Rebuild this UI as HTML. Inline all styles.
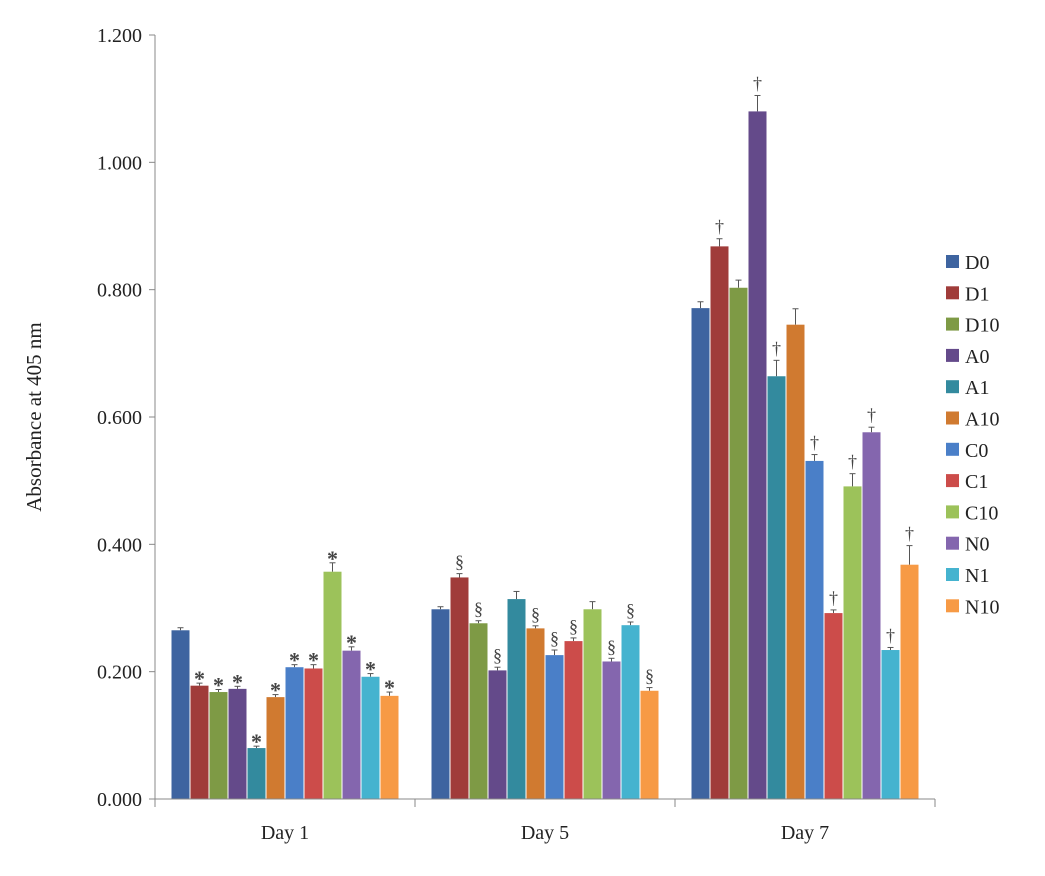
<!DOCTYPE html>
<html><head><meta charset="utf-8"><style>
body{margin:0;background:#fff}
svg{display:block;font-family:"Liberation Serif",serif}
</style></head><body>
<svg id="chart" width="1045" height="876" viewBox="0 0 1045 876"></svg>
<script>
const categories=["Day 1","Day 5","Day 7"];
const series=["D0","D1","D10","A0","A1","A10","C0","C1","C10","N0","N1","N10"];
const colors=["#3E64A0","#A03C3A","#7E9A45","#644A8A","#338A9E","#D07A30","#4A7FC8","#CC4C4A","#9CC25A","#8466AE","#45B3CF","#F79A45"];
const day1=[0.265,0.178,0.168,0.173,0.080,0.160,0.207,0.205,0.357,0.233,0.192,0.162];
const day5=[0.298,0.348,0.276,0.202,0.314,0.268,0.226,0.248,0.298,0.216,0.273,0.170];
const day7=[0.771,0.868,0.803,1.080,0.664,0.745,0.531,0.292,0.491,0.576,0.234,0.368];
const err1=[0.004,0.004,0.004,0.004,0.003,0.004,0.004,0.006,0.014,0.006,0.005,0.006];
const err5=[0.004,0.006,0.004,0.005,0.012,0.004,0.008,0.005,0.012,0.005,0.005,0.005];
const err7=[0.010,0.012,0.012,0.025,0.025,0.025,0.010,0.005,0.020,0.008,0.004,0.030];
const marks1=["","*","*","*","*","*","*","*","*","*","*","*"];
const marks5=["","§","§","§","","§","§","§","","§","§","§"];
const marks7=["","†","","†","†","","†","†","†","†","†","†"];
const yTicks=[0,0.2,0.4,0.6,0.8,1.0,1.2];
const values=[day1,day5,day7],errs=[err1,err5,err7],marks=[marks1,marks5,marks7];
const NS="http://www.w3.org/2000/svg",svg=document.getElementById('chart');
const x0=155,x1=935,yBase=799,yTop=35;
const y=v=>yBase-(v/1.2)*(yBase-yTop);
const gw=(x1-x0)/categories.length,bw=19,pad=(gw-bw*series.length)/2;
function el(t,a,txt){const e=document.createElementNS(NS,t);for(const k in a)e.setAttribute(k,a[k]);if(txt!==undefined)e.textContent=txt;svg.appendChild(e);return e;}
yTicks.forEach(t=>{
 const l=el('line',{x1:x0-6,x2:x0,y1:y(t),y2:y(t),stroke:'#888'});
 
 
 const tx=el('text',{x:x0-13,y:y(t)+7,'text-anchor':'end','font-size':20,fill:'#222'},t.toFixed(3));
 
 
});
const ya=el('line',{x1:x0,x2:x0,y1:yTop,y2:yBase,stroke:'#888'});


const yt=el('text',{x:0,y:0,transform:'translate(41,417) rotate(-90)','text-anchor':'middle','font-size':21,fill:'#222'},'Absorbance at 405 nm');


categories.forEach((c,g)=>{
 const gx=x0+g*gw;
 values[g].forEach((v,i)=>{
  const bx=gx+pad+i*bw;
  const ey=y(v+errs[g][i]);
  const e=el('line',{x1:bx+bw/2,x2:bx+bw/2,y1:ey,y2:y(v),stroke:'#555','stroke-width':1});
  
  
  const ec=el('line',{x1:bx+bw/2-3,x2:bx+bw/2+3,y1:ey,y2:ey,stroke:'#555'});
  
  
  const r=el('rect',{x:bx+0.5,y:y(v),width:bw-1,height:yBase-y(v),fill:colors[i]});
  
  
  if(marks[g][i]){
   const star=marks[g][i]==='*';
   const m=el('text',{x:bx+bw/2,y:ey-(star?-3:6),'text-anchor':'middle','font-size':star?22:18,'font-weight':star?'bold':'normal',fill:'#444'},marks[g][i]);
   
   
  }
 });
 const sep=el('line',{x1:gx+gw,x2:gx+gw,y1:yBase,y2:yBase+8,stroke:'#888'});
 
 
 const xl=el('text',{x:gx+gw/2,y:839,'text-anchor':'middle','font-size':20,fill:'#222'},c);
 
 
});
const s0=el('line',{x1:x0,x2:x0,y1:yBase,y2:yBase+8,stroke:'#888'});


const xa=el('line',{x1:x0,x2:x1,y1:yBase,y2:yBase,stroke:'#888'});


series.forEach((s,i)=>{
 const ly=262+i*31.3;
 const sq=el('rect',{x:946,y:ly-7,width:13,height:13,fill:colors[i]});
 
 
 const lt=el('text',{x:965,y:ly+7,'font-size':20,fill:'#222'},s);
 
 
});
</script>
</body></html>
